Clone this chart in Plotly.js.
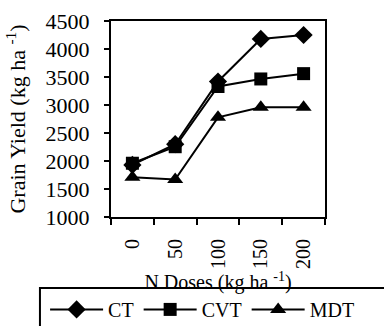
<!DOCTYPE html>
<html>
<head>
<meta charset="utf-8">
<script src="https://cdn.plot.ly/plotly-3.0.1.min.js"></script>
<style>html,body{margin:0;padding:0;background:#fff;}#chart{width:384px;height:326px;}</style>
</head>
<body>
<div id="chart"></div>
<script>
var doses = ["0", "50", "100", "150", "200"];
var ct = [1930, 2300, 3420, 4180, 4250];
var cvt = [1960, 2255, 3330, 3465, 3560];
var mdt = [1710, 1670, 2780, 2960, 2960];

var font = "Liberation Serif, Times New Roman, serif";
function tr(name, y, sym, size) {
  return {
    x: doses, y: y, name: name, type: "scatter", mode: "lines+markers",
    line: {color: "#000", width: 2},
    marker: {symbol: sym, size: size, color: "#000"}
  };
}
var data = [
  tr("CT", ct, "diamond", 14),
  tr("CVT", cvt, "square", 13),
  tr("MDT", mdt, "triangle-up", 14)
];
var layout = {
  width: 384, height: 326,
  margin: {l: 111, r: 59, t: 21, b: 109, autoexpand: false},
  paper_bgcolor: "#fff", plot_bgcolor: "#fff",
  font: {family: font, size: 20, color: "#000"},
  showlegend: true,
  legend: {
    orientation: "h", x: -0.308, y: -0.372, xanchor: "left", yanchor: "top",
    borderwidth: 0, bgcolor: "rgba(0,0,0,0)",
    font: {family: font, size: 20, color: "#000"},
    itemwidth: 53, tracegroupgap: 0
  },
  shapes: [{
    type: "rect", xref: "paper", yref: "paper",
    x0: -0.332, x1: 1.3, y0: -0.362, y1: -0.6,
    line: {color: "#000", width: 2}, fillcolor: "rgba(0,0,0,0)"
  }],
  xaxis: {
    type: "category", range: [-0.5, 4.5],
    tickson: "boundaries", ticks: "outside", ticklen: 6, tickwidth: 2, tickcolor: "#000",
    tickangle: -90, ticklabelstandoff: 12,
    showline: true, linecolor: "#000", linewidth: 2, mirror: true,
    showgrid: false, zeroline: false, automargin: false,
    tickfont: {family: font, size: 20},
    title: {text: "N Doses (kg ha <sup>-1</sup>)", font: {family: font, size: 20}, standoff: 0}
  },
  yaxis: {
    range: [1000, 4500], dtick: 500, tick0: 1000,
    ticks: "outside", ticklen: 5, tickwidth: 2, tickcolor: "#000",
    showline: true, linecolor: "#000", linewidth: 2, mirror: true,
    showgrid: false, zeroline: false, automargin: false, ticklabelstandoff: 10,
    tickfont: {family: font, size: 22},
    title: {text: "Grain Yield (kg ha <sup>-1</sup>)", font: {family: font, size: 22}, standoff: 14}
  }
};
Plotly.newPlot("chart", data, layout, {displayModeBar: false, staticPlot: true});
</script>
</body>
</html>
